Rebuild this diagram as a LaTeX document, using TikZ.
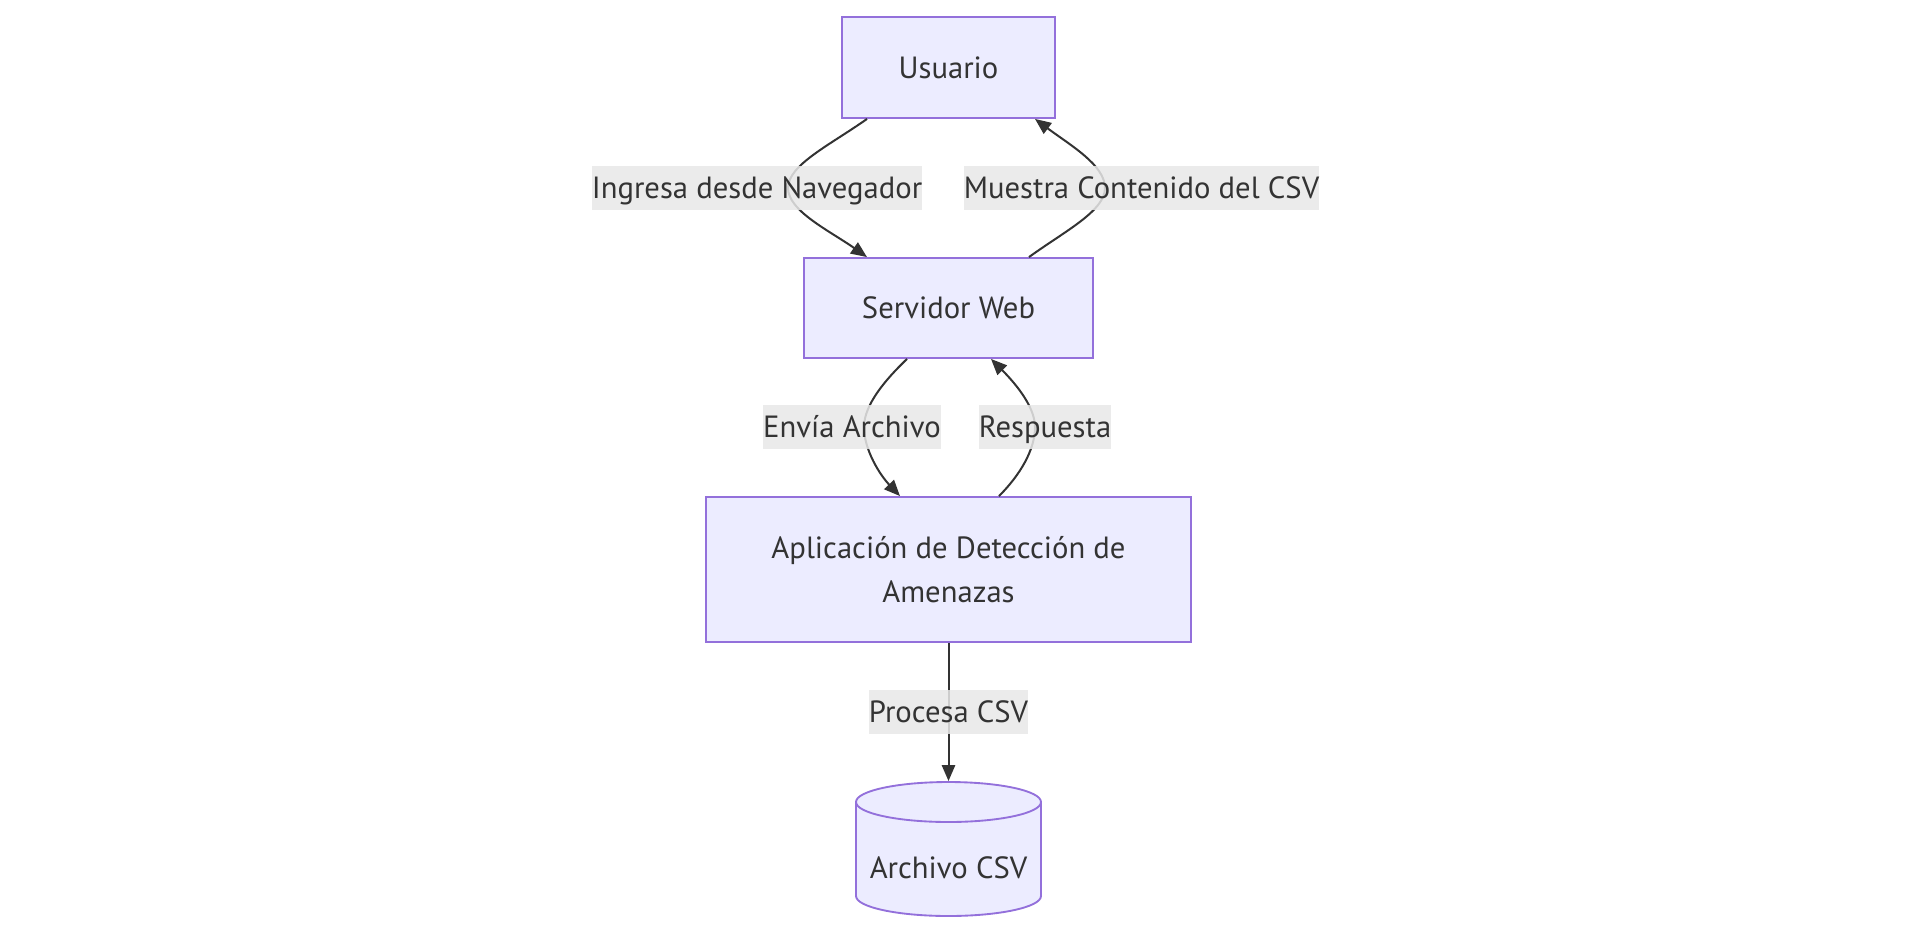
\documentclass[tikz,border=0pt]{standalone}
\usepackage{fontspec}
\setmainfont{PT Sans}
\usetikzlibrary{arrows.meta}
\newdimen\pxu \pxu=0.75pt
\definecolor{nodefill}{HTML}{ECECFF}
\definecolor{nodeline}{HTML}{9370DB}
\definecolor{ink}{HTML}{333333}
\definecolor{lblbg}{HTML}{E8E8E8}
\tikzset{
  box/.style={draw=nodeline, fill=nodefill, line width=1.4pt, text=ink, align=center, inner sep=0pt},
  lbl/.style={fill=lblbg, fill opacity=0.85, text opacity=1, text=ink, inner xsep=0pt, inner ysep=0pt,
    text height=19pt, text depth=3pt, minimum height=44\pxu},
  conn/.style={draw=ink, line width=1.5pt, -{Triangle[length=12pt,width=10pt]}}
}
\begin{document}
\begin{tikzpicture}[x=0.75pt,y=-0.75pt, font=\fontsize{23}{33}\selectfont]
\useasboundingbox (0,0) rectangle (1914,929);
% nodes
\node[box, minimum width=213\pxu, minimum height=101\pxu] (usr) at (948.5,67.5) {Usuario};
\node[box, minimum width=289\pxu, minimum height=100\pxu] (srv) at (948.5,308) {Servidor Web};
\node[box, minimum width=485\pxu, minimum height=145\pxu] (app) at (948.5,569.5) {Aplicación de Detección de\\Amenazas};
% cylinder
\filldraw[draw=nodeline, fill=nodefill, line width=1.4pt]
  (856,802) -- (856,896) arc[start angle=180, end angle=0, x radius=92.5, y radius=20]
  -- (1041,802) arc[start angle=0, end angle=-180, x radius=92.5, y radius=20] -- cycle;
\draw[draw=nodeline, line width=1.4pt] (856,802) arc[start angle=180, end angle=0, x radius=92.5, y radius=20];
\coordinate (csvtop) at (948.5,781);
\node[text=ink, inner sep=0pt] (csv) at (948.5,868) {Archivo CSV};
% connectors
\draw[conn] ([xshift=-81.5\pxu]usr.south) .. controls (830,145) and (788,165) .. (788,188)
  .. controls (788,211) and (830,231) .. ([xshift=-81.5\pxu]srv.north);
\draw[conn] ([xshift=80.5\pxu]srv.north) .. controls (1065,231) and (1105,211) .. (1105,188)
  .. controls (1105,165) and (1070,145) .. ([xshift=86.5\pxu]usr.south);
\draw[conn] ([xshift=-41.5\pxu]srv.south) .. controls (885,380) and (864,405) .. (864,427)
  .. controls (864,450) and (880,475) .. ([xshift=-48.5\pxu]app.north);
\draw[conn] ([xshift=50.5\pxu]app.north) .. controls (1020,475) and (1035,450) .. (1035,427)
  .. controls (1035,405) and (1012,380) .. ([xshift=42.5\pxu]srv.south);
\draw[conn] (app.south) -- (csvtop);
% labels
\node[lbl] (l1) at (757,188) {Ingresa desde Navegador};
\node[lbl] (l2) at (1141.5,188) {Muestra Contenido del CSV};
\node[lbl] (l3) at (852,427) {Envía Archivo};
\node[lbl] (l4) at (1045,427) {Respuesta};
\node[lbl] (l5) at (948.5,712) {Procesa CSV};
\end{tikzpicture}
\end{document}
